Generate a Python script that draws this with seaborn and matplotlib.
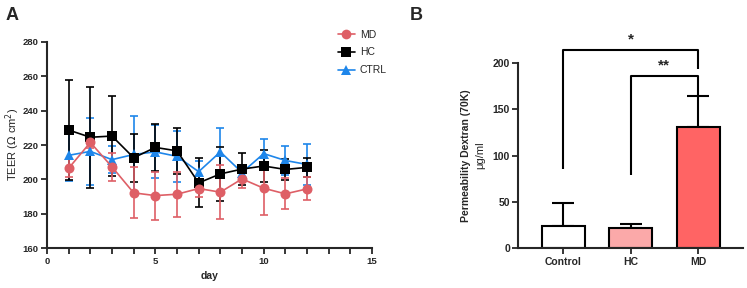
import numpy as np
import pandas as pd
import matplotlib
matplotlib.use("Agg")
import matplotlib.pyplot as plt
import seaborn as sns
from matplotlib.lines import Line2D

# panel A: TEER over time (mean +/- error)
days = list(range(1, 13))
md_mean = [206.5, 221.5, 207.3, 192.2, 190.6, 191.4, 194.7, 192.6, 200.3, 194.9, 191.6, 194.5]
md_err = [5.3, 3.0, 8.0, 14.8, 14.0, 13.0, 5.0, 15.8, 5.0, 15.5, 9.0, 6.7]
hc_mean = [228.7, 224.5, 225.2, 212.6, 218.6, 216.6, 198.0, 203.2, 206.0, 207.8, 205.8, 207.0]
hc_err = [29.0, 29.5, 23.0, 14.0, 13.7, 13.4, 14.3, 15.5, 9.5, 9.5, 6.0, 5.6]
ctrl_mean = [214.0, 216.3, 211.5, 214.5, 216.0, 213.4, 204.5, 216.0, 204.0, 215.0, 211.0, 208.7]
ctrl_err = [15.0, 19.5, 7.8, 22.5, 15.4, 14.8, 6.0, 14.0, 3.0, 8.5, 8.5, 11.7]

# panel B: permeability
groups = ["Control", "HC", "MD"]
perm_mean = [23.5, 21.7, 130.7]
perm_err = [25.0, 4.2, 33.7]

RED = "#DE5F66"
BLUE = "#1E86EA"
BAR_COLORS = ["#FFFFFF", "#FBA9A9", "#FF6464"]

sns.set_style("ticks")
plt.rcParams["font.family"] = ["Liberation Sans", "DejaVu Sans"]

fig = plt.figure(figsize=(7.47, 2.88), dpi=100)
axA = fig.add_axes([0.0629, 0.138, 0.4351, 0.717])
axB = fig.add_axes([0.694, 0.138, 0.300, 0.644])

series = [
    ("CTRL", ctrl_mean, ctrl_err, BLUE, "^"),
    ("HC", hc_mean, hc_err, "black", "s"),
    ("MD", md_mean, md_err, RED, "o"),
]
for name, m, e, c, mk in series:
    df = pd.DataFrame({"day": days, "teer": m})
    axA.errorbar(days, m, yerr=e, fmt="none", ecolor=c, elinewidth=1.2,
                 capsize=3.2, capthick=1.2, zorder=2)
    sns.lineplot(data=df, x="day", y="teer", ax=axA, color=c, marker=mk,
                 markersize=7.2, markeredgewidth=0, linewidth=1.2, zorder=3)

axA.set_xlim(0, 15)
axA.set_ylim(160, 280)
axA.set_xticks([0, 5, 10, 15])
axA.set_xticks(range(0, 16), minor=True)
axA.set_yticks(range(160, 281, 20))
axA.tick_params(axis="both", which="major", length=4, width=1.3, labelsize=6.8, pad=2)
axA.tick_params(axis="x", which="minor", length=4, width=1.3)
for lab in axA.get_xticklabels() + axA.get_yticklabels():
    lab.set_fontweight("bold")
for s in ["left", "bottom"]:
    axA.spines[s].set_linewidth(1.5)
sns.despine(ax=axA)
axA.set_xlabel("day", fontsize=7.5, fontweight="bold", labelpad=4)
axA.set_ylabel("")
fig.text(0.0165, 0.5, "TEER ($\\Omega$ cm$^2$)", rotation=90, fontsize=8,
         ha="center", va="center")

handles = [
    Line2D([], [], color=RED, marker="o", markersize=7, markeredgewidth=0, linewidth=1.2),
    Line2D([], [], color="black", marker="s", markersize=7, markeredgewidth=0, linewidth=1.2),
    Line2D([], [], color=BLUE, marker="^", markersize=7, markeredgewidth=0, linewidth=1.2),
]
fig.legend(handles, ["MD", "HC", "CTRL"], loc="upper left", bbox_to_anchor=(0.44, 0.93),
           frameon=False, fontsize=7.5, handlelength=1.6, handletextpad=0.5, labelspacing=0.75)

fig.text(0.008, 0.975, "A", fontsize=13, fontweight="bold", va="top")
fig.text(0.548, 0.975, "B", fontsize=13, fontweight="bold", va="top")

# panel B bars
bdf = pd.DataFrame({"group": groups, "value": perm_mean})
sns.barplot(data=bdf, x="group", y="value", hue="group", palette=BAR_COLORS, ax=axB,
            width=0.64, saturation=1, edgecolor="black", linewidth=1.5, legend=False, zorder=2)
axB.errorbar(range(3), perm_mean, yerr=[np.zeros(3), perm_err], fmt="none",
             ecolor="black", elinewidth=1.5, capsize=8, capthick=1.5, zorder=1)
axB.set_xlim(-0.667, 2.66)
axB.set_ylim(0, 200)
axB.set_yticks([0, 50, 100, 150, 200])
axB.tick_params(axis="both", length=4, width=1.3, labelsize=7.5, pad=2)
for lab in axB.get_xticklabels() + axB.get_yticklabels():
    lab.set_fontweight("bold")
for s in ["left", "bottom"]:
    axB.spines[s].set_linewidth(1.5)
sns.despine(ax=axB)
axB.set_xlabel("")
axB.set_ylabel("")
fig.text(0.624, 0.46, "Permeability Dextran (70K)", rotation=90, fontsize=7.5,
         fontweight="bold", ha="center", va="center")
fig.text(0.643, 0.46, "\u03bcg/ml", rotation=90, fontsize=8, ha="center", va="center")

# significance brackets
kw = dict(color="black", linewidth=1.5, clip_on=False, solid_capstyle="butt")
axB.plot([0, 0, 2, 2], [86, 213.7, 213.7, 193], **kw)
axB.plot([1, 1, 2, 2], [79, 185.7, 185.7, 164.4], **kw)
axB.text(1.0, 218, "*", ha="center", va="bottom", fontsize=11, fontweight="bold")
axB.text(1.5, 190, "**", ha="center", va="bottom", fontsize=11, fontweight="bold")

fig.savefig("out.png", dpi=100)
